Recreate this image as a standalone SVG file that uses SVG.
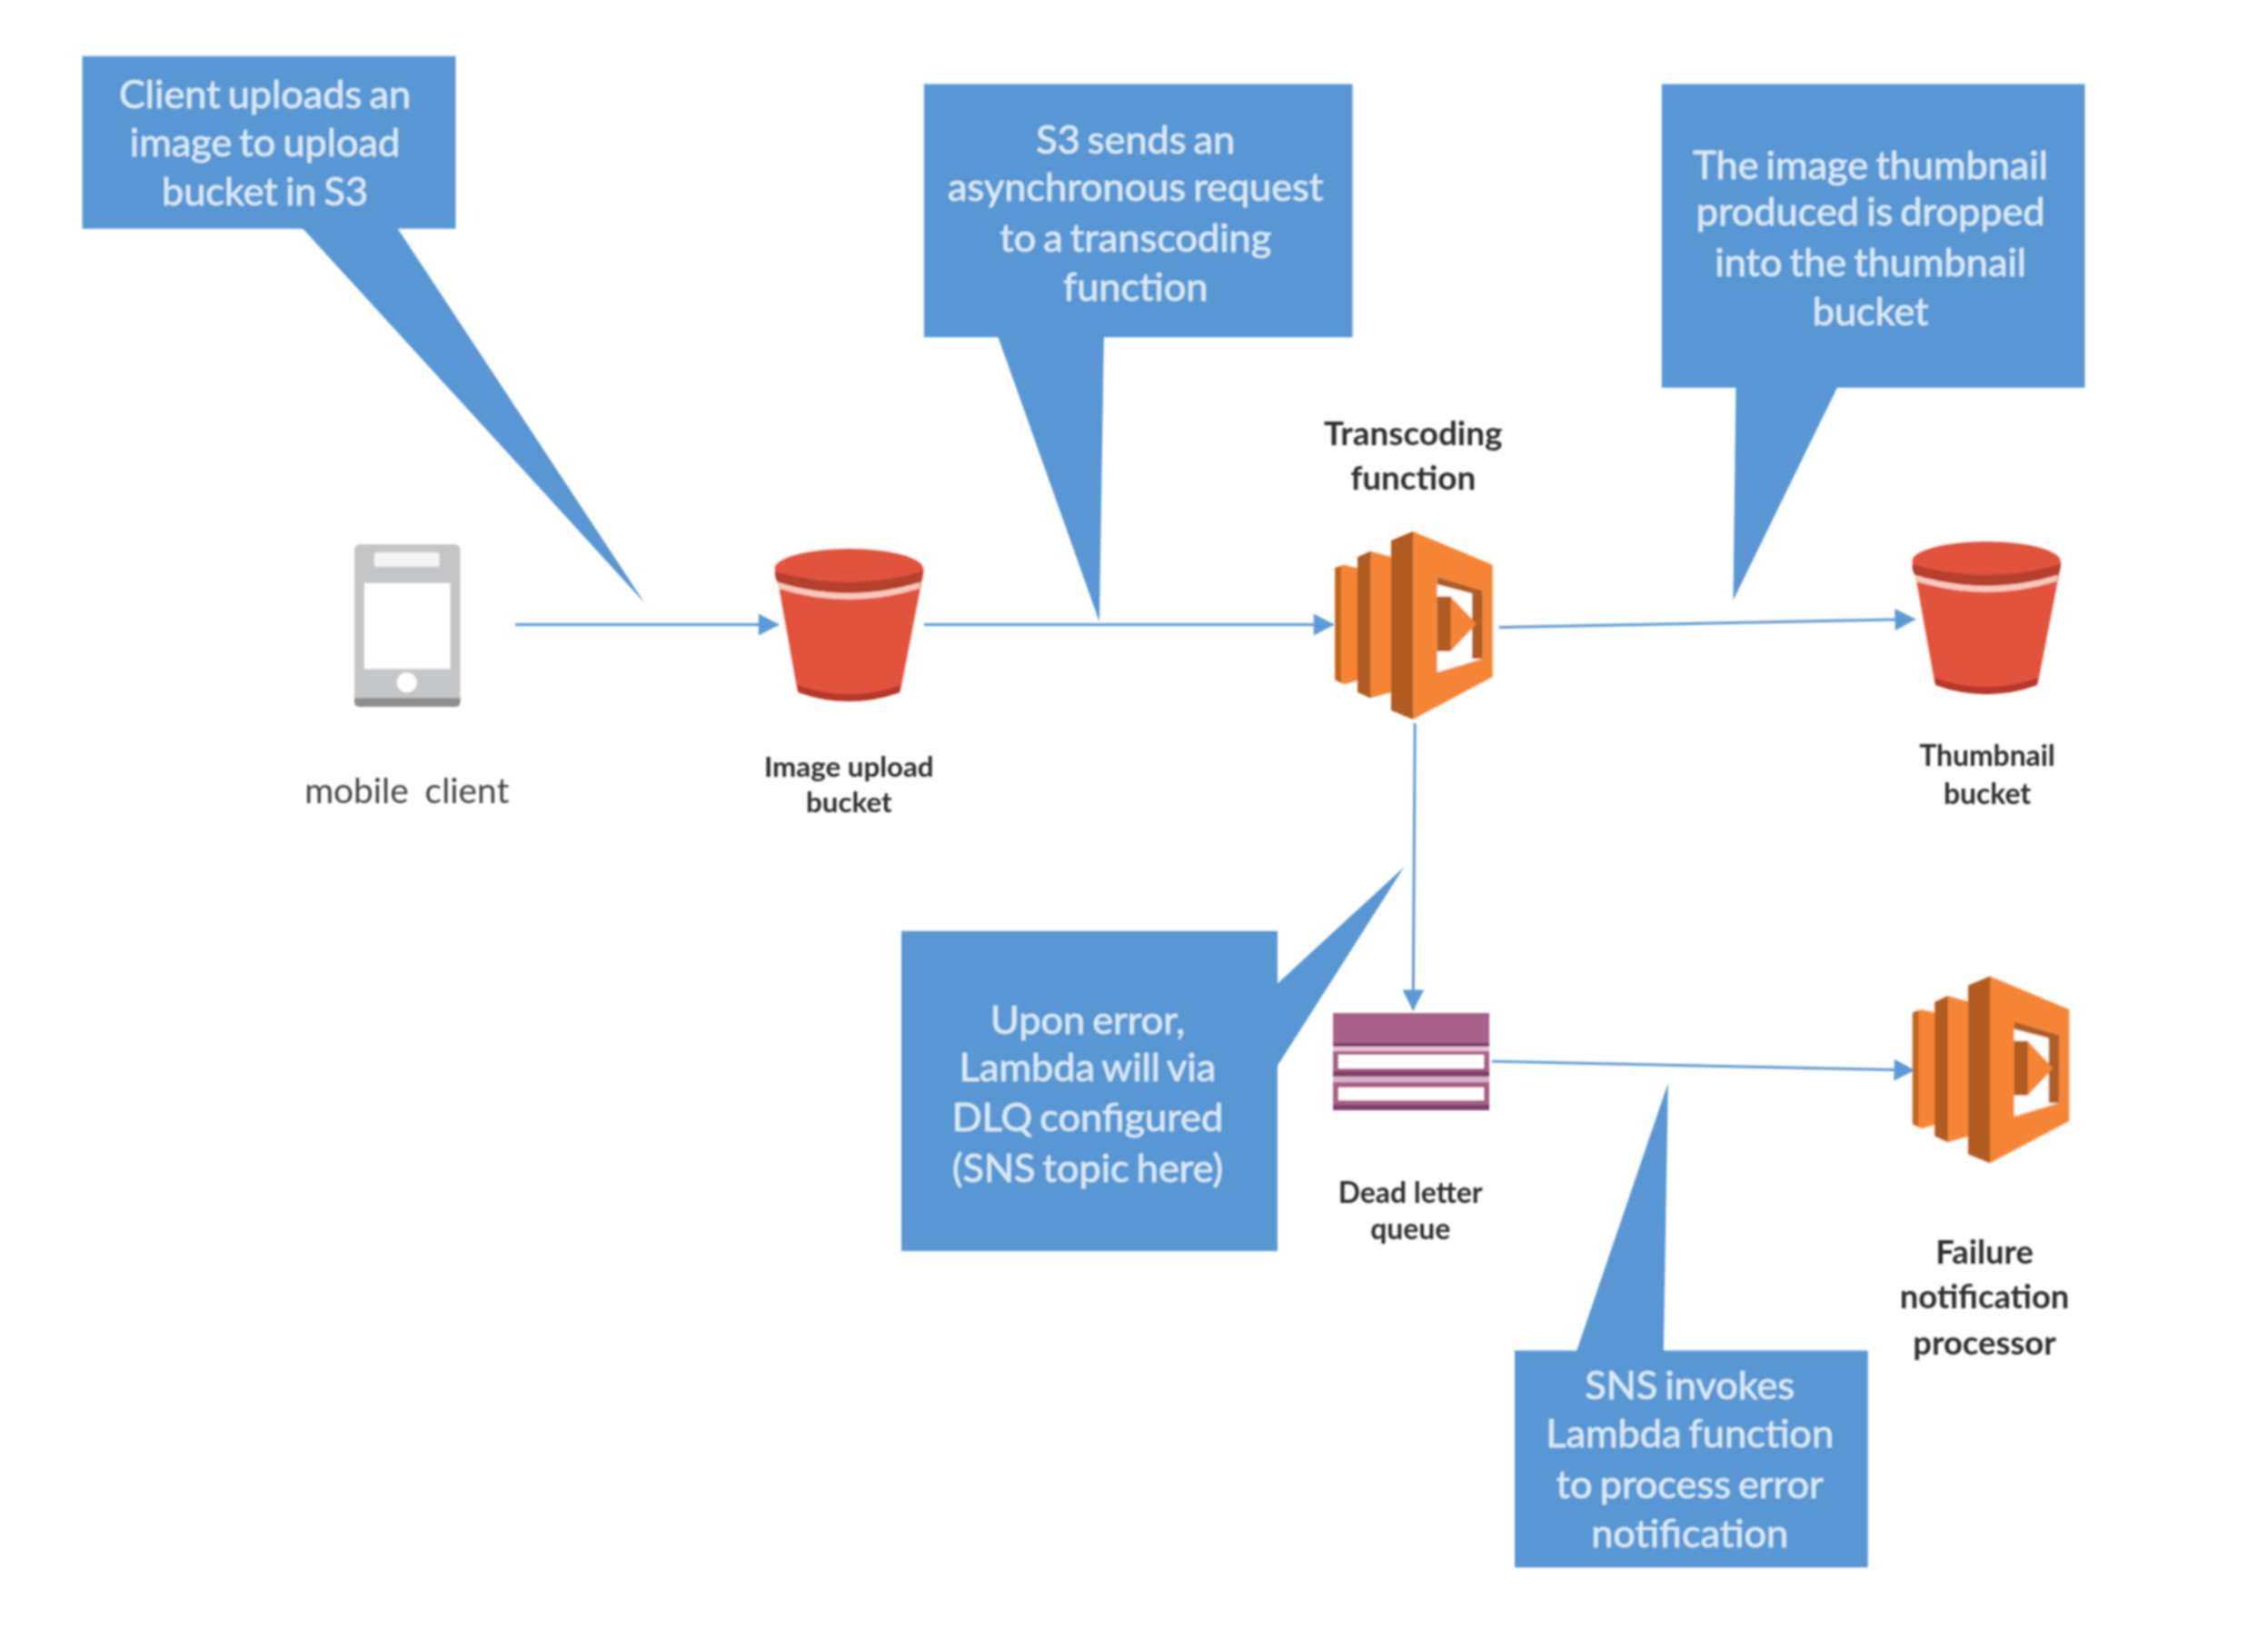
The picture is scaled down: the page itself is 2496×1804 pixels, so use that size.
<svg xmlns="http://www.w3.org/2000/svg" width="2496" height="1804" viewBox="0 0 2496 1804">
<style>
.call{fill:#5997d3}
.ct{font-family:"Lato","Liberation Sans",sans-serif;font-size:43.5px;fill:#d9eaf7;stroke:#d9eaf7;stroke-width:.5;text-anchor:middle;word-spacing:-3px;transform:translateY(1.5px)}
.nl{font-family:"Lato","Liberation Sans",sans-serif;font-weight:700;fill:#2f2f2f;text-anchor:middle;transform:translateY(1px)}
.conn{fill:none;stroke:#5b9bd5;stroke-width:3;marker-end:url(#arrow)}
</style>
<defs>
<filter id="soft" x="-5%" y="-5%" width="110%" height="110%"><feGaussianBlur stdDeviation="1"/></filter>
<marker id="arrow" markerUnits="userSpaceOnUse" markerWidth="28" markerHeight="28" refX="23" refY="14" orient="auto"><path d="M1 2 L24 14 L1 26 Z" fill="#5b9bd5"/></marker>
<g id="lambda-icon">
<path d="M148 555 L178 545 L230 558 L230 925 L178 940 L148 925 Z" fill="#f58534"/>
<path d="M148 555 L168 548 L168 935 L148 925 Z" fill="#c2651f"/>
<path d="M222 520 L265 500 L336 520 L336 965 L265 985 L222 965 Z" fill="#f58534"/>
<path d="M222 520 L265 500 L265 985 L222 965 Z" fill="#b05c20"/>
<path d="M333 465 L405 435 L668 545 L668 915 L405 1055 L333 1025 Z" fill="#f58534"/>
<path d="M333 465 L405 435 L405 1055 L333 1025 Z" fill="#b05c20"/>
<path d="M485 585 L635 630 L635 855 L485 900 Z" fill="#fff"/>
<path d="M485 585 L635 630 L635 855 L600 855 L600 640 L485 610 Z" fill="#b05c20"/>
<path d="M485 650 L530 650 L615 740 L530 830 L485 830 Z" fill="#f58534"/>
<path d="M485 650 L530 650 L530 830 L485 830 Z" fill="#b05c20"/>
</g>
<g id="bucket-icon">
<path d="M858 630 L882 764 Q939 782 996 764 L1022 630 Z" fill="#e2533d"/>
<path d="M882 758 Q939 778 996 758 L995 766 Q939 786 883 766 Z" fill="#b5392b"/>
<ellipse cx="939" cy="629" rx="82" ry="22" fill="#e2533d"/>
<path d="M860 644 Q939 668 1018 644 L1017 651 Q939 675 861 651 Z" fill="#f6c9bd"/>
<path d="M857 632 Q939 656 1021 632 Q1021 640 1018 644 Q939 668 860 644 Q857 640 857 632 Z" fill="#b5402f"/>
</g>
</defs>
<rect width="2496" height="1804" fill="#fff"/>
<g filter="url(#soft)">
<g transform="scale(.995)">
<g id="connectors">
<path class="conn" d="M570 691 L861 691"/>
<path class="conn" d="M1022 691 L1475 691"/>
<path class="conn" d="M1658 694 L2118 685"/>
<path class="conn" d="M1565 800 L1563 1117"/>
<path class="conn" d="M1650 1174 L2117 1184"/>
</g>
<g id="callout-upload">
<path class="call" d="M91 62 H504 V253 H440 L713 667 L335 253 H91 Z"/>
<text class="ct"><tspan x="293" y="118">Client uploads an</tspan><tspan x="293" y="171">image to upload</tspan><tspan x="293" y="226">bucket in S3</tspan></text>
</g>
<g id="callout-async">
<path class="call" d="M1022 93 H1496 V373 H1221 L1216 688 L1104 373 H1022 Z"/>
<text class="ct"><tspan x="1256" y="168">S3 sends an</tspan><tspan x="1256" y="221">asynchronous request</tspan><tspan x="1256" y="277">to a transcoding</tspan><tspan x="1256" y="331">function</tspan></text>
</g>
<g id="callout-thumb">
<path class="call" d="M1838 93 H2306 V429 H2032 L1917 664 L1920 429 H1838 Z"/>
<text class="ct"><tspan x="2069" y="197">The image thumbnail</tspan><tspan x="2069" y="248">produced is dropped</tspan><tspan x="2069" y="304">into the thumbnail</tspan><tspan x="2069" y="358">bucket</tspan></text>
</g>
<g id="callout-error">
<path class="call" d="M997 1030 H1413 V1088 L1553 959 L1413 1179 V1384 H997 Z"/>
<text class="ct"><tspan x="1203" y="1142">Upon error,</tspan><tspan x="1203" y="1194">Lambda will via</tspan><tspan x="1203" y="1250">DLQ configured</tspan><tspan x="1203" y="1306">(SNS topic here)</tspan></text>
</g>
<g id="callout-sns">
<path class="call" d="M1675 1494 H1744 L1845 1198 L1840 1494 H2066 V1734 H1675 Z"/>
<text class="ct"><tspan x="1869" y="1546">SNS invokes</tspan><tspan x="1869" y="1600">Lambda function</tspan><tspan x="1869" y="1656">to process error</tspan><tspan x="1869" y="1710">notification</tspan></text>
</g>
<g id="mobile-client">
<rect x="392" y="602" width="117" height="180" rx="6" fill="#c4c6c8"/>
<path d="M392 772 H509 V776 Q509 782 503 782 H398 Q392 782 392 776 Z" fill="#8b8d8f"/>
<rect x="403" y="645" width="95" height="95" fill="#fff"/>
<rect x="414" y="611" width="72" height="16" rx="3" fill="#f4f4f4"/>
<circle cx="450" cy="755" r="11" fill="#fff"/>
<text x="450" y="888" font-family="Lato,'Liberation Sans',sans-serif" font-size="39" fill="#444" text-anchor="middle" word-spacing="8">mobile client</text>
</g>
<g id="image-upload-bucket">
<use href="#bucket-icon"/>
<text class="nl" font-size="31.5"><tspan x="939" y="858">Image upload</tspan><tspan x="939" y="898">bucket</tspan></text>
</g>
<g id="transcoding-function">
<use href="#lambda-icon" transform="translate(1427.1 442.2) scale(.335)"/>
<text class="nl" font-size="37"><tspan x="1563" y="491">Transcoding</tspan><tspan x="1563" y="541">function</tspan></text>
</g>
<g id="thumbnail-bucket">
<use href="#bucket-icon" transform="translate(1258 -8)"/>
<text class="nl" font-size="32"><tspan x="2198" y="846">Thumbnail</tspan><tspan x="2198" y="888">bucket</tspan></text>
</g>
<g id="dead-letter-queue">
<g transform="scale(1.005025)">
<rect x="1467" y="1115" width="172" height="107" fill="#a8628a"/>
<rect x="1467" y="1148" width="172" height="4" fill="#7d3f68"/>
<rect x="1467" y="1152" width="172" height="5" fill="#e6c5d8"/>
<rect x="1467" y="1179" width="172" height="6" fill="#7d3f68"/>
<rect x="1467" y="1185" width="172" height="6" fill="#d9b3ca"/>
<rect x="1467" y="1216" width="172" height="6" fill="#7d3f68"/>
<rect x="1473" y="1161" width="160" height="15" fill="#fff"/>
<rect x="1473" y="1197" width="160" height="14" fill="#fff"/>
</g>
<text class="nl" font-size="32"><tspan x="1560" y="1330">Dead letter</tspan><tspan x="1560" y="1370">queue</tspan></text>
</g>
<g id="failure-processor">
<use href="#lambda-icon" transform="translate(2066 935) scale(.3333)"/>
<text class="nl" font-size="36.5"><tspan x="2195" y="1397">Failure</tspan><tspan x="2195" y="1446">notification</tspan><tspan x="2195" y="1498">processor</tspan></text>
</g>
</g>
</g>
</svg>
